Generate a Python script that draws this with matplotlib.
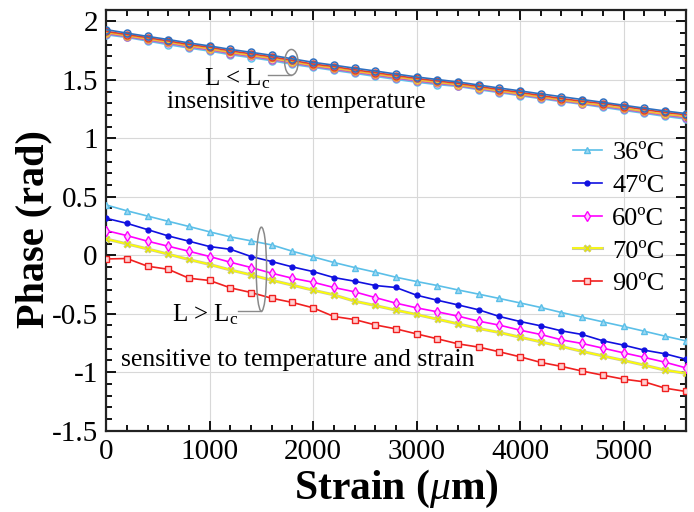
import matplotlib
matplotlib.use('Agg')
import matplotlib.pyplot as plt
import matplotlib.patheffects as pe
from matplotlib.patches import Ellipse
from matplotlib.ticker import MultipleLocator

plt.rcParams['font.family'] = ['Liberation Serif', 'DejaVu Serif']
plt.rcParams['mathtext.fontset'] = 'custom'
plt.rcParams['mathtext.rm'] = 'Liberation Serif'
plt.rcParams['mathtext.it'] = 'Liberation Serif:italic'
plt.rcParams['mathtext.bf'] = 'Liberation Serif:bold'

# ---- data ----
strain = [0, 200, 400, 600, 800, 1000, 1200, 1400, 1600, 1800, 2000, 2200, 2400, 2600, 2800,
          3000, 3200, 3400, 3600, 3800, 4000, 4200, 4400, 4600, 4800, 5000, 5200, 5400, 5600]

# L < Lc group (insensitive to temperature)
short_blue = [1.93, 1.90, 1.872, 1.845, 1.816, 1.79, 1.761, 1.736, 1.71, 1.68, 1.65, 1.626, 1.60, 1.576,
              1.55, 1.525, 1.503, 1.482, 1.456, 1.43, 1.406, 1.38, 1.356, 1.332, 1.308, 1.283, 1.258, 1.234, 1.212]
short_red = [1.915, 1.888, 1.861, 1.833, 1.803, 1.779, 1.748, 1.723, 1.697, 1.666, 1.635, 1.614, 1.586, 1.562,
             1.537, 1.512, 1.491, 1.47, 1.444, 1.417, 1.393, 1.366, 1.34, 1.317, 1.297, 1.272, 1.246, 1.221, 1.202]
short_yellow = [1.905, 1.878, 1.85, 1.822, 1.792, 1.766, 1.735, 1.71, 1.684, 1.654, 1.624, 1.601, 1.574, 1.55,
                1.525, 1.5, 1.479, 1.458, 1.432, 1.405, 1.38, 1.354, 1.328, 1.304, 1.282, 1.257, 1.231, 1.206, 1.188]
short_magenta = [1.895, 1.87, 1.84, 1.812, 1.782, 1.756, 1.725, 1.7, 1.674, 1.643, 1.615, 1.59, 1.565, 1.54,
                 1.514, 1.49, 1.469, 1.451, 1.424, 1.398, 1.372, 1.346, 1.32, 1.297, 1.273, 1.248, 1.222, 1.197, 1.176]
short_cyan = [1.886, 1.863, 1.832, 1.801, 1.772, 1.746, 1.715, 1.69, 1.664, 1.632, 1.607, 1.581, 1.556, 1.53,
              1.504, 1.48, 1.46, 1.444, 1.416, 1.391, 1.365, 1.339, 1.314, 1.291, 1.265, 1.239, 1.214, 1.188, 1.165]

# L > Lc group (sensitive to temperature and strain)
long_36 = [0.43, 0.38, 0.335, 0.29, 0.246, 0.20, 0.157, 0.123, 0.088, 0.034, -0.014, -0.062, -0.105, -0.145,
           -0.188, -0.225, -0.259, -0.297, -0.333, -0.370, -0.408, -0.447, -0.490, -0.530, -0.570, -0.609,
           -0.650, -0.692, -0.732]
long_47 = [0.316, 0.273, 0.219, 0.165, 0.120, 0.074, 0.051, -0.011, -0.054, -0.100, -0.140, -0.191, -0.222,
           -0.259, -0.276, -0.342, -0.385, -0.425, -0.467, -0.524, -0.567, -0.604, -0.647, -0.678, -0.732,
           -0.769, -0.812, -0.843, -0.889]
long_60 = [0.211, 0.168, 0.120, 0.077, 0.034, -0.011, -0.060, -0.105, -0.154, -0.197, -0.231, -0.276, -0.313,
           -0.362, -0.410, -0.450, -0.484, -0.521, -0.564, -0.598, -0.641, -0.678, -0.724, -0.755, -0.795,
           -0.835, -0.874, -0.915, -0.963]
long_70 = [0.139, 0.097, 0.054, 0.009, -0.037, -0.079, -0.126, -0.168, -0.214, -0.256, -0.299, -0.339, -0.393,
           -0.430, -0.470, -0.507, -0.547, -0.587, -0.627, -0.661, -0.701, -0.741, -0.780, -0.823, -0.861,
           -0.900, -0.940, -0.983, -1.010]
long_90 = [-0.032, -0.028, -0.094, -0.120, -0.197, -0.216, -0.279, -0.319, -0.368, -0.404, -0.450, -0.524,
           -0.550, -0.596, -0.630, -0.673, -0.715, -0.758, -0.786, -0.826, -0.869, -0.917, -0.951, -0.991,
           -1.026, -1.060, -1.083, -1.137, -1.165]

labels = ['36ºC', '47ºC', '60ºC', '70ºC', '90ºC']

fig = plt.figure(figsize=(6.94, 5.12), dpi=100)
ax = fig.add_axes([0.153, 0.159, 0.835, 0.822])

# --- short fiber group, circles ---
short_sets = [(short_blue, '#2f6fc0'), (short_red, '#e0402a'), (short_yellow, '#f0c030'),
              (short_magenta, '#c060c0'), (short_cyan, '#5ec4ee')]
for vals, c in short_sets[::-1]:
    ax.plot(strain, vals, color=c, lw=1.2, marker='o', ms=5, mfc='none', mew=1.1, zorder=3)

# --- long fiber group ---
ax.plot(strain, long_36, color='#5bbfe8', lw=1.2, marker='^', ms=5, mfc='#9fd9f2', mew=1, label=labels[0], zorder=4)
ax.plot(strain, long_47, color='#1010e0', lw=1.2, marker='.', ms=7, label=labels[1], zorder=4)
ax.plot(strain, long_60, color='#ff00ff', lw=1.2, marker='d', ms=5, mfc='#ffc8ff', mew=1, label=labels[2], zorder=4)
ax.plot(strain, long_70, color='#ffff00', lw=1.2, marker='x', ms=4, mec='#e6e600', label=labels[3], zorder=4,
        path_effects=[pe.Stroke(linewidth=2.2, foreground='#c8c8a0'), pe.Normal()])
ax.plot(strain, long_90, color='#f02020', lw=1.2, marker='s', ms=4, mfc='#ffd0d0', mew=1, label=labels[4], zorder=4)

# ellipses and leader lines
ax.add_patch(Ellipse((1790, 1.65), 130, 0.22, fill=False, ec='#8a8a8a', lw=1.1, zorder=5))
ax.plot([1560, 1790], [1.54, 1.54], color='#8a8a8a', lw=1.0, zorder=5)
ax.add_patch(Ellipse((1500, -0.12), 100, 0.72, fill=False, ec='#8a8a8a', lw=1.1, zorder=5))
ax.plot([1270, 1500], [-0.48, -0.48], color='#8a8a8a', lw=1.0, zorder=5)

ax.text(950, 1.51, r'L < L$_\mathrm{c}$', fontsize=18, va='center', ha='left')
ax.text(590, 1.31, 'insensitive to temperature', fontsize=18, va='center', ha='left')
ax.text(635, -0.51, r'L > L$_\mathrm{c}$', fontsize=18, va='center', ha='left')
ax.text(145, -0.90, 'sensitive to temperature and strain', fontsize=18.5, va='center', ha='left')

ax.set_xlim(0, 5600)
ax.set_ylim(-1.5, 2.1)
ax.set_yticks([-1.5, -1, -0.5, 0, 0.5, 1, 1.5, 2])
ax.set_yticklabels(['-1.5', '-1', '-0.5', '0', '0.5', '1', '1.5', '2'])
ax.set_xticks([0, 1000, 2000, 3000, 4000, 5000])
ax.xaxis.set_minor_locator(MultipleLocator(200))
ax.yaxis.set_minor_locator(MultipleLocator(0.1))
ax.tick_params(which='both', direction='in', top=True, right=True, labelsize=21, width=1.3, pad=6)
ax.tick_params(which='major', length=7)
ax.tick_params(which='minor', length=4)
for s in ax.spines.values():
    s.set_linewidth(1.6)
    s.set_color('#222222')
ax.grid(True, which='major', color='#d8d8d8', lw=0.8)
ax.set_axisbelow(True)

ax.set_xlabel(r'Strain ($\mu$m)', fontsize=30, fontweight='bold', labelpad=2)
ax.set_ylabel('Phase (rad)', fontsize=29, fontweight='bold', va='center')
ax.yaxis.set_label_coords(-0.125, 0.479)

ax.legend(loc='center left', bbox_to_anchor=(0.805, 0.505), frameon=False, fontsize=19,
          handlelength=1.1, handletextpad=0.4, labelspacing=0.35, borderpad=0, borderaxespad=0)

fig.savefig('out.png', dpi=100)
